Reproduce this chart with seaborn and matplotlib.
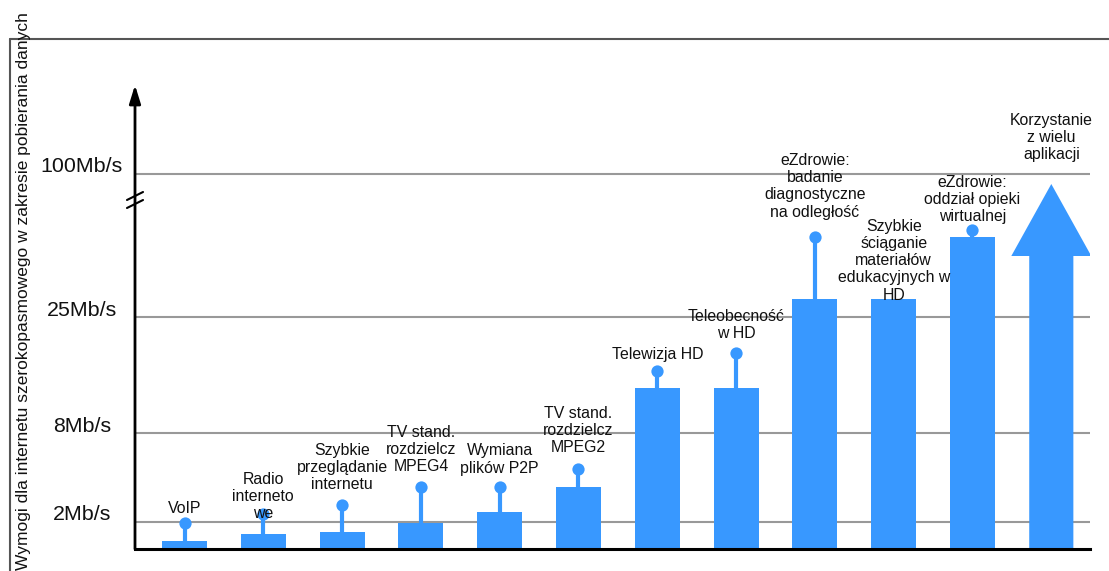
import matplotlib
matplotlib.use("Agg")
import matplotlib.pyplot as plt
from matplotlib.patches import FancyArrow
from matplotlib.lines import Line2D
import seaborn as sns
import numpy as np
import pandas as pd

# chart units: the y axis is schematic, one unit = one step of the drawn scale
categories = [
    "VoIP",
    "Radio\ninterneto\nwe",
    "Szybkie\nprzeglądanie\ninternetu",
    "TV stand.\nrozdzielcz\nMPEG4",
    "Wymiana\nplików P2P",
    "TV stand.\nrozdzielcz\nMPEG2",
    "Telewizja HD",
    "Teleobecność\nw HD",
    "eZdrowie:\nbadanie\ndiagnostyczne\nna odległość",
    "Szybkie\nściąganie\nmateriałów\nedukacyjnych w\nHD",
    "eZdrowie:\noddział opieki\nwirtualnej",
]
bar_height = [8, 15, 17, 26, 37, 62, 161, 161, 250, 250, 312]
peak_height = [26, 35, 44, 62, 62, 80, 178, 196, 312, np.nan, 319]

arrow_label = "Korzystanie\nz wielu\naplikacji"
arrow_shaft = 293
arrow_tip = 365

tick_pos = [27, 116, 232, 375]
tick_labels = ["2Mb/s", "8Mb/s", "25Mb/s", "100Mb/s"]
y_title = "Wymogi dla internetu szerokopasmowego w zakresie pobierania danych"

# layout only: space between the marker and the last text line
label_gap = [10, -4, 16, 16, 14.5, 16.5, 11.5, 14.5, 20.5, -0.5, 9]

sns.set_theme(style="white")
plt.rcParams["font.family"] = ["Liberation Sans", "DejaVu Sans"]

blue = "#3898FF"
W, H = 1109, 571
fig = plt.figure(figsize=(W / 100, H / 100), dpi=100)
ax = fig.add_axes([135 / W, 22 / H, 955 / W, 464 / H])

for p in tick_pos:
    ax.axhline(p, color="#999999", lw=1.5, zorder=1)

df = pd.DataFrame({"need": categories, "height": bar_height})
sns.barplot(data=df, x="need", y="height", color=blue, saturation=1,
            width=0.57, linewidth=0, ax=ax, zorder=2)

idx = np.arange(len(categories))
ax.vlines(idx, bar_height, peak_height, color=blue, lw=3, zorder=2)
sns.scatterplot(x=idx, y=peak_height, color=blue, s=78, linewidth=0,
                ax=ax, zorder=3)

n = len(categories)
ax.add_patch(FancyArrow(n, 0, 0, arrow_tip, width=0.56, head_width=1.015,
                        head_length=arrow_tip - arrow_shaft,
                        length_includes_head=True, color=blue, lw=0, zorder=2))

for i, lab in enumerate(categories):
    anchor = peak_height[i] if not np.isnan(peak_height[i]) else bar_height[i]
    ax.text(i, anchor + label_gap[i], lab, ha="center", va="baseline",
            fontsize=11.4, linespacing=1.18, zorder=5, color="#111111")
ax.text(n, arrow_tip + 25, arrow_label, ha="center", va="baseline",
        fontsize=11.4, linespacing=1.18, zorder=5, color="#111111")

step = 78.8
left = -49.5 / step
ax.set_xlim(left, left + 955 / step)
ax.set_ylim(0, 464)
ax.set_xticks([])
ax.set_yticks([])
ax.set_xlabel("")
ax.set_ylabel("")
for s in ["top", "right", "left"]:
    ax.spines[s].set_visible(False)
ax.spines["bottom"].set_color("black")
ax.spines["bottom"].set_linewidth(2.2)

# y axis with arrow head
ax.annotate("", xy=(0, 1), xytext=(0, 0), xycoords="axes fraction",
            arrowprops=dict(arrowstyle="-|>,head_length=0.55,head_width=0.17",
                            lw=2, color="black", mutation_scale=20,
                            shrinkA=0, shrinkB=0))

# axis break marks
ytr = ax.get_yaxis_transform()
for off in [0, -8]:
    ax.plot([-0.0084, 0.0084], [349 + off, 357 + off], color="black", lw=1.5,
            transform=ytr, clip_on=False)

for p, lab in zip(tick_pos, tick_labels):
    ax.text(-0.0555, p + 7, lab, transform=ytr, ha="center", va="center",
            fontsize=15.4, color="#111111")

# outer frame
top = 1 - 39 / H
fig.add_artist(Line2D([10 / W, 1], [top, top], color="#555555", lw=1.5))
fig.add_artist(Line2D([10 / W, 10 / W], [0, top], color="#555555", lw=1.5))

fig.text(24 / W, 1 - 291 / H, y_title, rotation=90, ha="center", va="center",
         fontsize=12.5, color="#111111")

fig.savefig("out.png", dpi=100)
